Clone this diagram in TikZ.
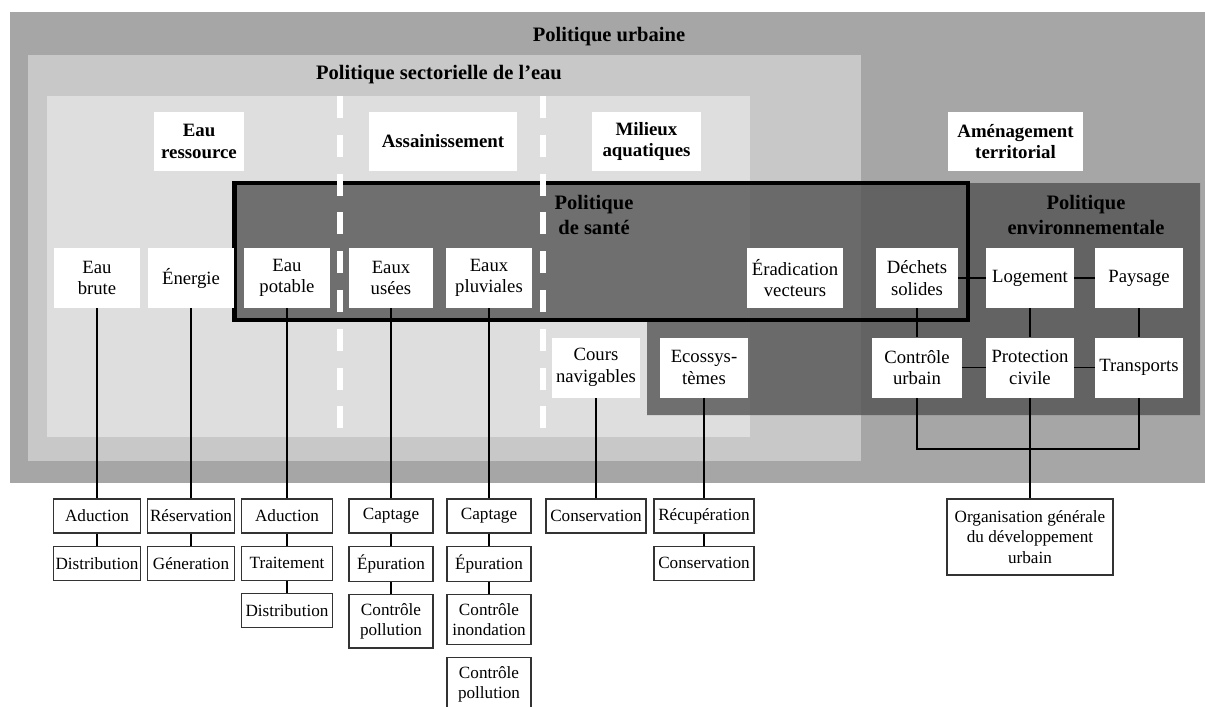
\documentclass[tikz,border=0pt]{standalone}
\usepackage{fontspec}
\setmainfont{Liberation Serif}
\usepackage{tikz}
\usetikzlibrary{positioning}
\definecolor{urbgray}{gray}{0.65}
\definecolor{secgray}{gray}{0.785}
\definecolor{resgray}{gray}{0.87}
\definecolor{santegray}{gray}{0.32}
\tikzset{
  ttl/.style={font=\fontsize{14.6}{17.8}\selectfont\bfseries,align=center,inner sep=0pt},
  hbox/.style={fill=white,inner sep=2pt,align=center,minimum height=1.475cm,font=\fontsize{13.4}{15.4}\selectfont\bfseries},
  ubox/.style={fill=white,inner sep=1pt,align=center,minimum height=1.5cm,minimum width=2.15cm,font=\fontsize{13.3}{15.4}\selectfont},
  sbox/.style={draw=black!80,line width=0.9pt,fill=white,inner xsep=1pt,inner ysep=6pt,align=center,minimum height=0.85cm,font=\fontsize{12.2}{14.7}\selectfont},
  link/.style={line width=0.9pt},
  sepline/.style={white,line width=4.3pt,dash pattern=on 15.6pt off 12pt}
}

\begin{document}
\begin{tikzpicture}[x=0.025cm,y=-0.025cm]
\useasboundingbox (0,0) rectangle (1205,706);
\clip (0,0) rectangle (1205,706);
% nested policy areas
\fill[urbgray] (10,12) rectangle (1205,483);
\fill[secgray] (28,55) rectangle (861,461);
\fill[resgray] (47,96) rectangle (750,437);
\fill[santegray,fill opacity=0.79] (234.5,183) rectangle (968,320) (647,183) rectangle (1200,415);
\draw[line width=2.9pt] (234.5,183) rectangle (968,320);
\draw[sepline] (340,96) -- (340,437);
\draw[sepline] (543,96) -- (543,437);

\node[ttl] (urb) at (609,37) {Politique urbaine};
\node[ttl] (sect) at (439,75) {Politique sectorielle de l’eau};
\node[ttl] (sante) at (594,215) {Politique\\de santé};
\node[ttl] (envir) at (1086,215) {Politique\\environnementale};

\node[hbox,minimum width=2.25cm] (ress) at (199,141.5) {Eau\\ressource};
\node[hbox,minimum width=3.7cm] (assai) at (443,141.5) {Assainissement};
\node[hbox,minimum width=2.725cm] (milieux) at (646.5,141.5) {Milieux\\aquatiques};
\node[hbox,minimum width=3.375cm] (amenag) at (1015.5,141.5) {Aménagement\\territorial};

% domains
\node[ubox] (brute) at (97,278) {Eau\\brute};
\node[ubox] (energie) at (191,278) {Énergie};
\node[ubox] (potable) at (287,278) {Eau\\potable};
\node[ubox,minimum width=2.1cm] (usees) at (391,278) {Eaux\\usées};
\node[ubox] (pluv) at (489,278) {Eaux\\pluviales};
\node[ubox,minimum width=2.375cm] (eradic) at (795,278) {Éradication\\vecteurs};
\node[ubox,minimum width=2.05cm] (dechets) at (917,278) {Déchets\\solides};
\node[ubox,minimum width=2.2cm] (logement) at (1030,278) {Logement};
\node[ubox,minimum width=2.2cm] (paysage) at (1139,278) {Paysage};

\node[ubox,minimum width=2.2cm] (cours) at (596,367.5) {Cours\\navigables};
\node[ubox,minimum width=2.175cm] (ecos) at (704,367.5) {Ecossys-\\tèmes};
\node[ubox,minimum width=2.225cm] (controle) at (917,367.5) {Contrôle\\urbain};
\node[ubox,minimum width=2.2cm] (protection) at (1030,367.5) {Protection\\civile};
\node[ubox,minimum width=2.2cm] (transports) at (1139,367.5) {Transports};

% functions
\node[sbox,minimum width=2.175cm] (bruteA) at (97,516) {Aduction};
\node[sbox,minimum width=2.175cm,below=0.3cm of bruteA] (bruteB) {Distribution};
\node[sbox,minimum width=2.175cm] (energieA) at (191,516) {Réservation};
\node[sbox,minimum width=2.175cm,below=0.3cm of energieA] (energieB) {Géneration};
\node[sbox,minimum width=2.275cm] (potableA) at (287,516) {Aduction};
\node[sbox,minimum width=2.275cm,below=0.3cm of potableA] (potableB) {Traitement};
\node[sbox,minimum width=2.275cm,below=0.3cm of potableB] (potableC) {Distribution};
\node[sbox,minimum width=2.1cm] (useesA) at (391,516) {Captage};
\node[sbox,minimum width=2.1cm,below=0.3cm of useesA] (useesB) {Épuration};
\node[sbox,minimum width=2.1cm,below=0.3cm of useesB] (useesC) {Contrôle\\pollution};
\node[sbox,minimum width=2.1cm] (pluvA) at (489,516) {Captage};
\node[sbox,minimum width=2.1cm,below=0.3cm of pluvA] (pluvB) {Épuration};
\node[sbox,minimum width=2.1cm,below=0.3cm of pluvB] (pluvC) {Contrôle\\inondation};
\node[sbox,minimum width=2.1cm,below=0.3cm of pluvC] (pluvD) {Contrôle\\pollution};
\node[sbox,minimum width=2.5cm] (coursA) at (596,516) {Conservation};
\node[sbox,minimum width=2.5cm] (ecosA) at (704,516) {Récupération};
\node[sbox,minimum width=2.5cm,below=0.3cm of ecosA] (ecosB) {Conservation};
\node[sbox,minimum width=4.15cm,minimum height=1.9cm] (org) at (1030,537) {Organisation générale\\du développement\\urbain};

\draw[link] (brute) -- (bruteA) -- (bruteB);
\draw[link] (energie) -- (energieA) -- (energieB);
\draw[link] (potable) -- (potableA) -- (potableB) -- (potableC);
\draw[link] (usees) -- (useesA) -- (useesB) -- (useesC);
\draw[link] (pluv) -- (pluvA) -- (pluvB) -- (pluvC);
\draw[link] (cours) -- (coursA);
\draw[link] (ecos) -- (ecosA) -- (ecosB);

\draw[link] (dechets) -- (logement) -- (paysage);
\draw[link] (controle) -- (protection) -- (transports);
\draw[link] (dechets) -- (controle);
\draw[link] (logement) -- (protection);
\draw[link] (paysage) -- (transports);
\coordinate (jn) at (1030,449);
\draw[link] (controle) |- (jn) -| (transports);
\draw[link] (protection) -- (org);
\end{tikzpicture}
\end{document}
